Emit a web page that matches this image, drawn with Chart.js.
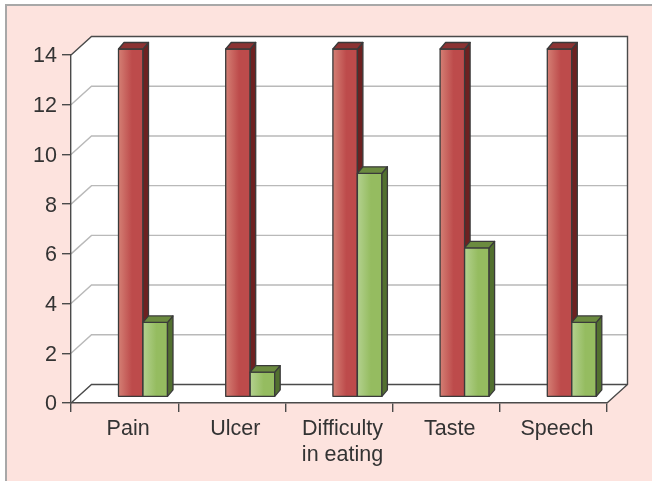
<!DOCTYPE html>
<html>
<head>
<meta charset="utf-8">
<script src="https://cdn.jsdelivr.net/npm/chart.js@4"></script>
<style>
html,body{margin:0;padding:0;background:#fff;overflow:hidden}
#panel{position:absolute;left:5px;top:4px;width:660px;height:490px;background:#fde3de;border:2px solid #a8a8a8;box-sizing:border-box}
canvas{position:absolute;left:0;top:0}
</style>
</head>
<body>
<div id="panel"></div>
<div style="position:absolute;left:0;top:0;width:652px;height:481px"><canvas id="c" width="652" height="481"></canvas></div>
<script>
const categories = [["Pain"], ["Ulcer"], ["Difficulty", "in eating"], ["Taste"], ["Speech"]];
const redValues = [14, 14, 14, 14, 14];
const greenValues = [3, 1, 9, 6, 3];
const yTicks = [0, 2, 4, 6, 8, 10, 12, 14];

const WALL_DX = 20.5, WALL_DY = 18.5, BAR_DX = 18.4, BAR_DY = 6, DEPTH_X = 5.5, DEPTH_Y = 6.5;
const INK = '#3a3a3a';

class Bar3D extends Chart.BarElement {
  static id = 'bar3d';
  static defaults = {...Chart.BarElement.defaults, frontLight: '#999', frontDark: '#666', topColor: '#555', sideColor: '#444'};
  draw(ctx) {
    const {x, y, base, width} = this.getProps(['x', 'y', 'base', 'width']);
    const o = this.options;
    const l = x - width / 2 + BAR_DX, r = x + width / 2 + BAR_DX;
    const t = y - BAR_DY, b = base - BAR_DY;
    ctx.save();
    ctx.lineJoin = 'round';
    ctx.lineWidth = 1.3;
    ctx.strokeStyle = INK;
    const g = ctx.createLinearGradient(l, 0, r, 0);
    g.addColorStop(0, o.frontLight);
    g.addColorStop(0.55, o.frontDark);
    g.addColorStop(1, o.frontDark);
    ctx.fillStyle = g;
    ctx.fillRect(l, t, r - l, b - t);
    ctx.strokeRect(l, t, r - l, b - t);
    ctx.fillStyle = o.sideColor;
    ctx.beginPath();
    ctx.moveTo(r, t); ctx.lineTo(r + DEPTH_X, t - DEPTH_Y); ctx.lineTo(r + DEPTH_X, b - DEPTH_Y); ctx.lineTo(r, b);
    ctx.closePath(); ctx.fill(); ctx.stroke();
    ctx.fillStyle = o.topColor;
    ctx.beginPath();
    ctx.moveTo(l, t); ctx.lineTo(l + DEPTH_X, t - DEPTH_Y); ctx.lineTo(r + DEPTH_X, t - DEPTH_Y); ctx.lineTo(r, t);
    ctx.closePath(); ctx.fill(); ctx.stroke();
    ctx.restore();
  }
}
class Bar3DController extends Chart.BarController {
  static id = 'bar3d';
  static defaults = {...Chart.BarController.defaults, dataElementType: 'bar3d'};
}
Chart.register(Bar3D, Bar3DController);

const wallPlugin = {
  id: 'wall',
  beforeDraw(chart) {
    const {ctx, scales} = chart;
    const xs = scales.x, ys = scales.y;
    const L = xs.left, R = xs.right, B = ys.getPixelForValue(0), T = ys.getPixelForValue(14);
    ctx.save();
    ctx.fillStyle = '#ffffff';
    ctx.beginPath();
    ctx.moveTo(L, T); ctx.lineTo(L + WALL_DX, T - WALL_DY); ctx.lineTo(R + WALL_DX, T - WALL_DY);
    ctx.lineTo(R + WALL_DX, B - WALL_DY); ctx.lineTo(R, B); ctx.lineTo(L, B);
    ctx.closePath(); ctx.fill();
    yTicks.slice(1, -1).forEach(v => {
      const p = ys.getPixelForValue(v);
      ctx.strokeStyle = '#b9b9b9';
      ctx.lineWidth = 1.4;
      ctx.beginPath();
      ctx.moveTo(L, p); ctx.lineTo(L + WALL_DX, p - WALL_DY); ctx.lineTo(R + WALL_DX, p - WALL_DY);
      ctx.stroke();
    });
    ctx.strokeStyle = '#4a4a4a';
    ctx.lineWidth = 1.4;
    ctx.beginPath();
    ctx.moveTo(L, T); ctx.lineTo(L + WALL_DX, T - WALL_DY); ctx.lineTo(R + WALL_DX, T - WALL_DY);
    ctx.lineTo(R + WALL_DX, B - WALL_DY); ctx.lineTo(R, B);
    ctx.moveTo(L, B); ctx.lineTo(L + WALL_DX, B - WALL_DY); ctx.lineTo(R + WALL_DX, B - WALL_DY);
    ctx.stroke();
    ctx.restore();
  },
  beforeDatasetsDraw(chart) {
    chart.getSortedVisibleDatasetMetas().forEach(m => m.controller.draw());
    return false;
  }
};

new Chart(document.getElementById('c'), {
  type: 'bar3d',
  data: {
    labels: categories,
    datasets: [
      {label: 'Series 1', data: redValues, frontLight: '#d47f74', frontDark: '#bd4b4b', topColor: '#8c3333', sideColor: '#6d2121'},
      {label: 'Series 2', data: greenValues, frontLight: '#b3d18f', frontDark: '#95bc60', topColor: '#6b8b3f', sideColor: '#52702f'}
    ]
  },
  options: {
    responsive: false,
    animation: false,
    datasets: {bar3d: {categoryPercentage: 0.457, barPercentage: 1}},
    layout: {padding: {left: 0, top: 55, right: 45, bottom: 0}},
    plugins: {legend: {display: false}, tooltip: {enabled: false}, title: {display: false}},
    scales: {
      x: {
        type: 'category',
        offset: true,
        afterFit: s => { s.height = 78; },
        grid: {offset: true, drawOnChartArea: false, drawTicks: true, tickLength: 9, color: '#4a4a4a', lineWidth: 1.4},
        border: {color: '#4a4a4a', width: 1.4},
        ticks: {color: '#333', font: {family: '"Liberation Sans"', size: 21.5, lineHeight: 1.17}, padding: 5, labelOffset: 3.5, maxRotation: 0, autoSkip: false}
      },
      y: {
        type: 'linear',
        min: 0,
        max: 14,
        afterFit: s => { s.width = 71; },
        afterBuildTicks: s => { s.ticks = yTicks.map(v => ({value: v})); },
        grid: {drawOnChartArea: false, drawTicks: true, tickLength: 9, color: '#4a4a4a', lineWidth: 1.4},
        border: {color: '#4a4a4a', width: 1.4},
        ticks: {color: '#333', font: {family: '"Liberation Sans"', size: 21.5}, padding: 5, labelOffset: 1.5}
      }
    }
  },
  plugins: [wallPlugin]
});
</script>
</body>
</html>
